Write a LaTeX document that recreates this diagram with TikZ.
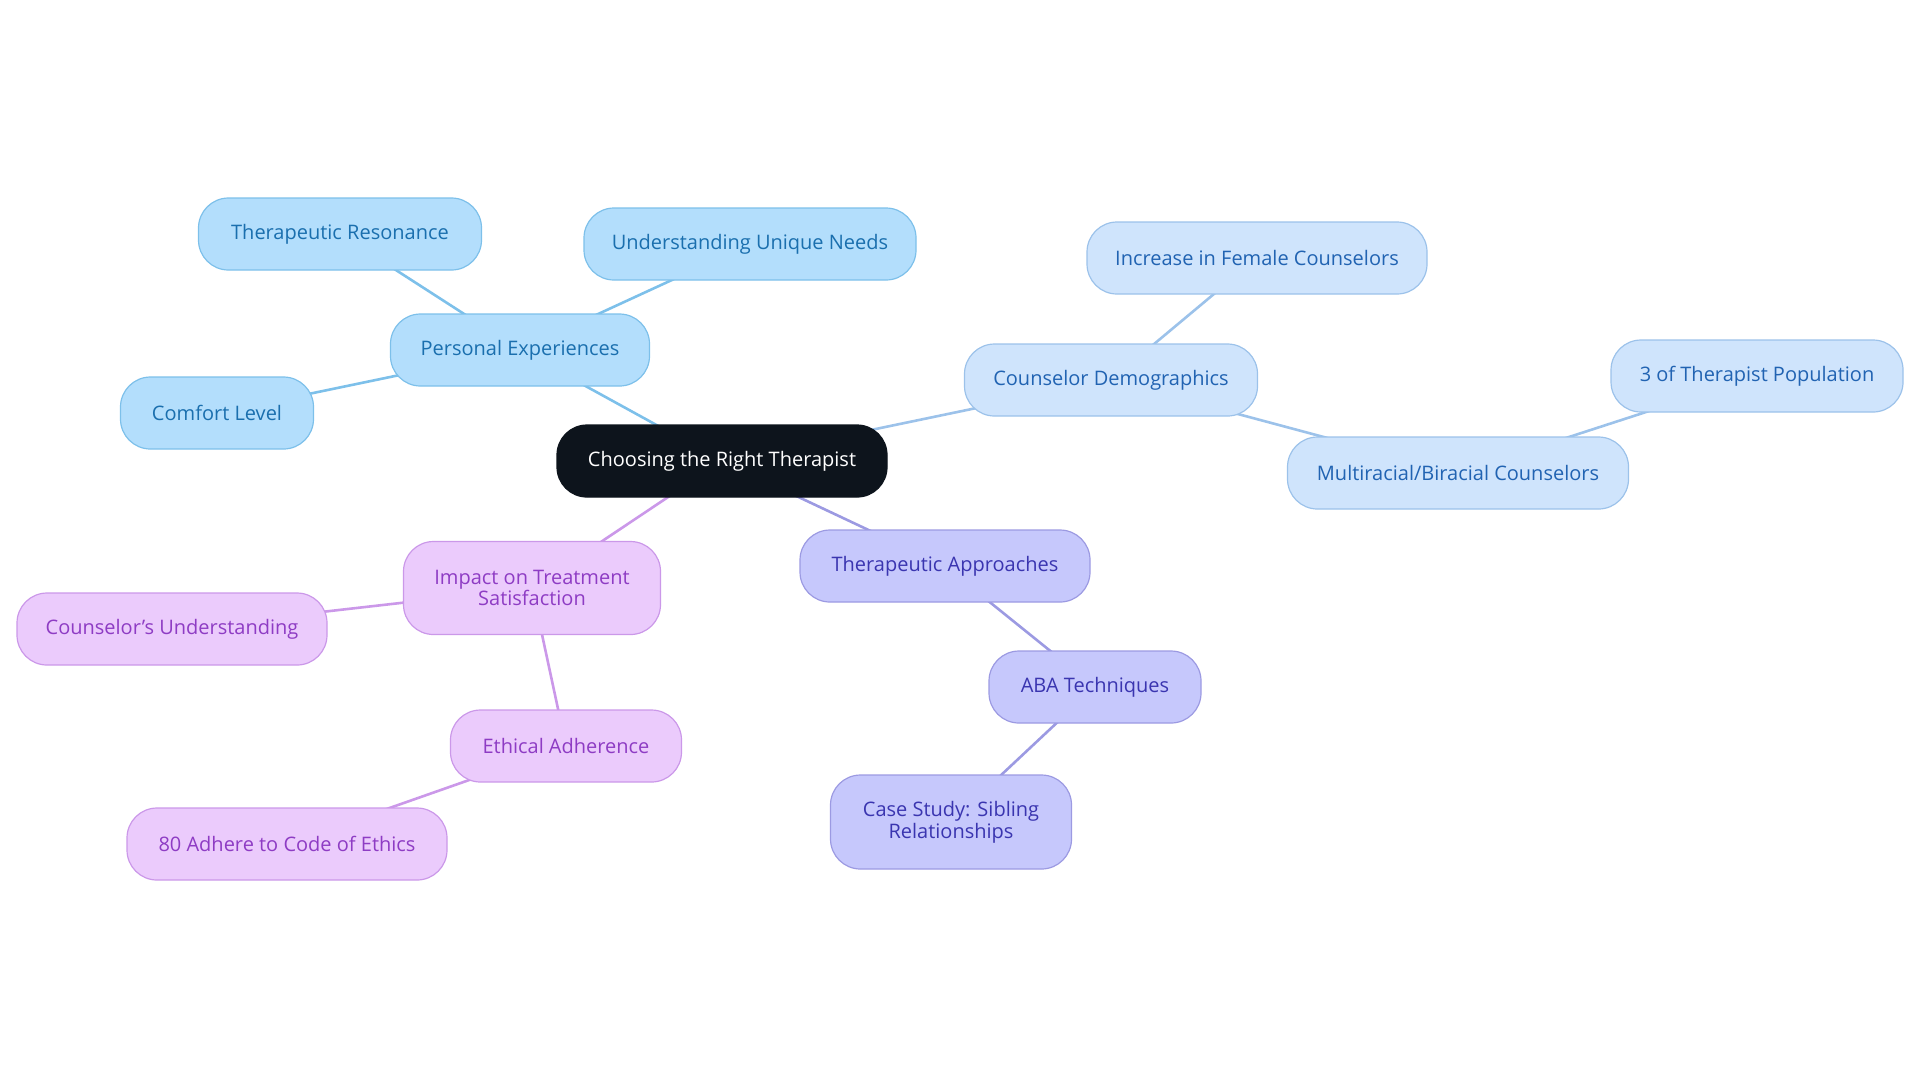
\documentclass[tikz,border=0pt]{standalone}
\usepackage{fontspec}
\setmainfont{Open Sans}
\usetikzlibrary{backgrounds}
\definecolor{rootfill}{HTML}{0D141C}
\definecolor{afill}{HTML}{B3DEFC}\definecolor{aline}{HTML}{7DC0EA}\definecolor{atext}{HTML}{1A6FAE}
\definecolor{bfill}{HTML}{CFE4FC}\definecolor{bline}{HTML}{9CC2EA}\definecolor{btext}{HTML}{2163B2}
\definecolor{cfill}{HTML}{C6C8FC}\definecolor{cline}{HTML}{9C9AE2}\definecolor{ctext}{HTML}{3A35B0}
\definecolor{dfill}{HTML}{EBCBFC}\definecolor{dline}{HTML}{CB98E9}\definecolor{dtext}{HTML}{8E3CC4}
\tikzset{
  x=0.5pt, y=-0.5pt,
  box/.style={rounded corners=15pt, minimum height=36pt, inner sep=2pt, align=center, font=\fontsize{10}{10.8}\selectfont, line width=0.6pt},
  rootbox/.style={box, fill=rootfill, draw=rootfill, text=white},
  abox/.style={box, fill=afill, draw=aline, text=atext},
  bbox/.style={box, fill=bfill, draw=bline, text=btext},
  cbox/.style={box, fill=cfill, draw=cline, text=ctext},
  dbox/.style={box, fill=dfill, draw=dline, text=dtext},
  aedge/.style={draw=aline, line width=1.3pt},
  bedge/.style={draw=bline, line width=1.3pt},
  cedge/.style={draw=cline, line width=1.3pt},
  dedge/.style={draw=dline, line width=1.3pt},
}
\begin{document}
\begin{tikzpicture}
\useasboundingbox (0,0) rectangle (1920,1083);
\node[rootbox, minimum width=165pt] (root) at (722,461) {Choosing the Right Therapist};
\node[abox, minimum width=129.5pt] (pe) at (520,350) {Personal Experiences};
\node[abox, minimum width=141.5pt] (tr) at (340,234) {Therapeutic Resonance};
\node[abox, minimum width=166pt] (un) at (750,244) {Understanding Unique Needs};
\node[abox, minimum width=96.5pt] (cl) at (217,413) {Comfort Level};
\node[bbox, minimum width=146.5pt] (cd) at (1111,380) {Counselor Demographics};
\node[bbox, minimum width=170pt] (fc) at (1257,258) {Increase in Female Counselors};
\node[bbox, minimum width=146pt] (tp) at (1757,376) {3 of Therapist Population};
\node[bbox, minimum width=170.5pt] (mb) at (1458,473) {Multiracial/Biracial Counselors};
\node[cbox, minimum width=145pt] (ta) at (945,566) {Therapeutic Approaches};
\node[cbox, minimum width=106pt] (aba) at (1095,687) {ABA Techniques};
\node[cbox, minimum width=120.5pt, minimum height=47pt] (cs) at (951,822) {Case Study: Sibling\\Relationships};
\node[dbox, minimum width=128.5pt, minimum height=46.5pt] (it) at (532,588) {Impact on Treatment\\Satisfaction};
\node[dbox, minimum width=155pt] (cu) at (172,629) {Counselor's Understanding};
\node[dbox, minimum width=115.5pt] (ea) at (566,746) {Ethical Adherence};
\node[dbox, minimum width=160pt] (ad) at (287,844) {80 Adhere to Code of Ethics};
\begin{pgfonlayer}{background}
\draw[aedge] (root.center) -- (pe.center);
\draw[aedge] (pe.center) -- (tr.center);
\draw[aedge] (pe.center) -- (un.center);
\draw[aedge] (pe.center) -- (cl.center);
\draw[bedge] (root.center) -- (cd.center);
\draw[bedge] (cd.center) -- (fc.center);
\draw[bedge] (cd.center) -- (mb.center);
\draw[bedge] (mb.center) -- (tp.center);
\draw[cedge] (root.center) -- (ta.center);
\draw[cedge] (ta.center) -- (aba.center);
\draw[cedge] (aba.center) -- (cs.center);
\draw[dedge] (root.center) -- (it.center);
\draw[dedge] (it.center) -- (cu.center);
\draw[dedge] (it.center) -- (ea.center);
\draw[dedge] (ea.center) -- (ad.center);
\end{pgfonlayer}
\end{tikzpicture}
\end{document}
